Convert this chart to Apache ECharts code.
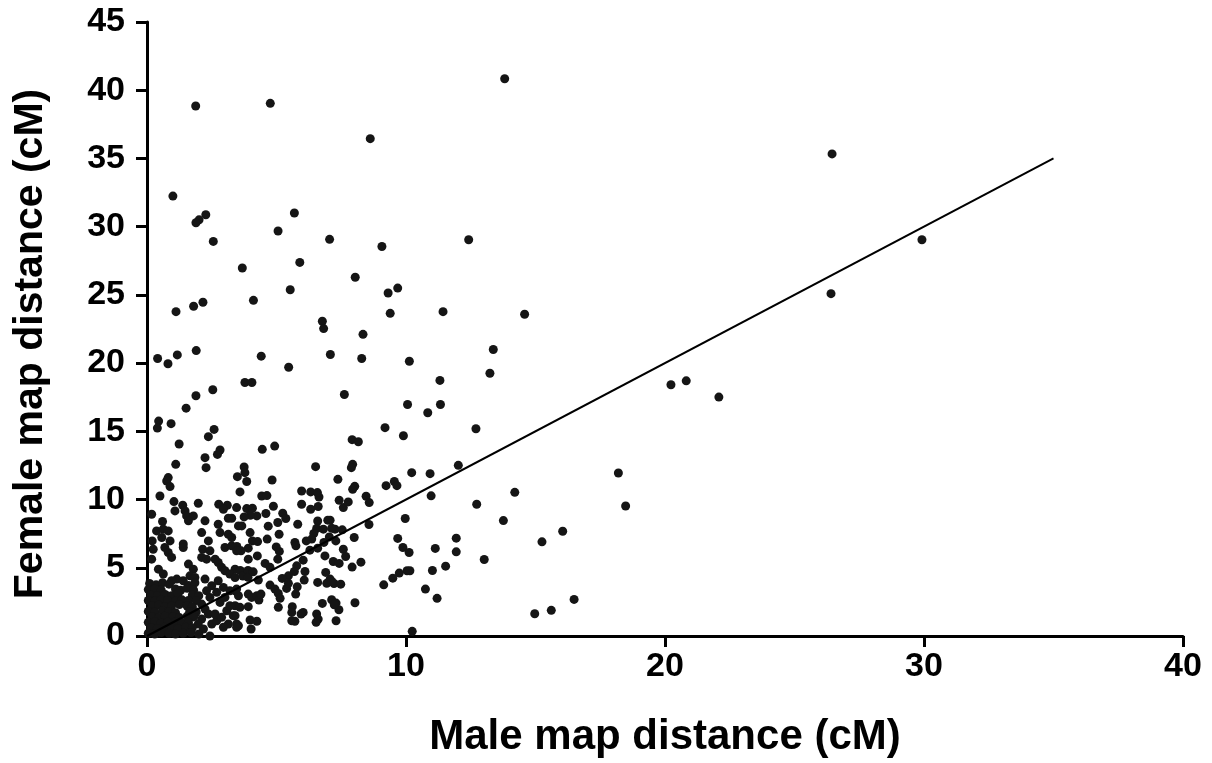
<!DOCTYPE html>
<html>
<head>
<meta charset="utf-8">
<title>Male vs female map distance</title>
<script src="https://cdn.jsdelivr.net/npm/echarts@6.0.0/dist/echarts.min.js"></script>
<style>
  html, body { margin: 0; padding: 0; background: #fff; }
  #chart { width: 1212px; height: 763px; }
</style>
</head>
<body>
<div id="chart"></div>
<script>
// male map distance (cM) for each marker interval
const maleDist = [
  13.81, 1.88, 4.76, 8.62, 1.00, 2.27, 2.01, 1.89, 5.69, 5.06, 2.56, 7.05, 9.07, 12.42,
  3.68, 5.9, 5.53, 4.11, 2.16, 1.80, 1.12, 6.77, 6.82, 0.41, 0.81, 1.17, 1.90, 4.41, 7.08, 5.47, 3.78, 4.05, 2.54, 1.89, 1.51, 0.45, 0.40, 0.93, 2.59, 2.37, 1.24, 2.82, 4.45, 4.93,
  8.04, 9.68, 9.31, 9.39, 11.43, 14.58, 8.34, 8.29, 10.13, 13.37, 13.24, 11.31, 7.62, 10.06, 11.33, 10.84, 9.19, 9.9, 12.7, 7.92, 8.16,
  20.23, 20.82, 22.08, 18.2, 18.48, 14.2, 13.76, 16.05, 15.25, 16.49, 15.61, 14.97, 29.92, 26.45, 26.41,
  7.94, 7.89, 12.02, 10.22, 10.93, 7.37, 8.02, 7.94, 9.23, 9.55, 9.65, 10.97, 12.73, 7.42, 7.58, 7.77, 8.46, 8.58, 8.57, 9.97, 7.07, 7.26, 7.54, 7.29, 8.0, 9.68, 9.88, 10.12, 11.13, 11.94, 11.94, 13.02, 7.58, 7.67, 7.19, 7.42, 8.26, 7.92, 11.53, 11.02, 10.04, 10.15, 9.74, 9.49, 9.14, 7.07, 7.22, 7.48, 10.75, 11.2, 7.13, 7.3, 7.41, 8.03, 7.3, 10.24,
  6.51, 3.75, 3.49, 3.78, 3.85, 4.83, 3.59, 4.43, 4.63, 5.97, 6.32, 6.64, 6.58, 5.97, 6.32, 6.61, 4.88, 3.46, 3.85, 4.07, 4.24, 3.99, 4.59, 3.75, 5.24, 5.36, 5.05, 4.68, 3.66, 5.82, 6.59, 6.98, 6.55, 6.81, 7.13, 3.98, 5.1, 6.44, 6.36, 6.15, 7.04, 4.07, 4.27, 4.64, 5.71, 6.83,
  3.47, 3.63, 3.91, 3.91, 4.26, 5.11, 5.05, 4.99, 5.75, 6.29, 6.03, 6.59, 6.87, 4.56, 4.75, 5.78, 5.69, 5.46, 5.22, 6.1, 6.07, 6.9, 3.4, 3.6, 3.7, 3.9, 3.9, 4.1, 4.3, 4.75, 4.94, 5.07, 5.14, 5.39, 5.46, 5.8, 5.74, 6.59, 6.94, 7.13, 3.4, 3.53, 3.91, 4.04, 4.24, 4.32, 4.4, 3.4, 3.59, 3.91, 5.07, 5.61, 5.59, 6.03, 5.95, 5.71, 5.59, 6.55, 6.61, 6.53, 6.77, 7.23, 3.46, 3.53, 3.98, 4.24, 4.02, 3.4,
  2.72, 2.24, 2.28, 1.11, 0.82, 0.76, 0.89, 0.5, 1.04, 1.38, 1.08, 1.47, 1.53, 1.79, 1.6, 1.98, 2.77, 3.1, 2.95, 3.27, 3.14, 3.53, 0.18, 0.6, 0.37, 0.63, 0.82, 0.57, 0.2, 0.89, 2.24, 2.11, 2.37, 2.75, 2.82, 3.14, 3.27, 1.4,
  0.24, 0.69, 0.82, 0.95, 1.4, 2.15, 2.43, 2.11, 2.3, 2.63, 2.75, 2.88, 3.01, 3.27, 3.46, 0.18, 0.44, 0.63, 1.6, 1.79, 1.66, 1.85, 1.15, 1.4, 0.95, 3.01, 3.2, 3.4, 2.24, 2.5, 2.75, 2.11, 2.24, 2.37, 2.11, 1.98, 2.18, 2.5, 2.69, 2.63, 2.88, 3.08, 2.82, 3.01, 3.2, 3.33, 3.14, 3.46, 2.95, 3.46, 3.2, 2.95, 2.69, 2.3, 2.43, 2.43,
  // the solid cluster next to the origin
  0.1, 0.35, 0.6, 0.85, 1.6, 1.85, 0.05, 0.3, 0.55, 1.1, 1.3, 1.55, 1.8, 0.15, 0.4, 0.7, 0.95, 1.2, 1.75, 2.0, 0.05, 0.3, 0.55, 0.8, 1.1, 1.35, 1.6, 1.9, 0.2, 0.45, 0.7, 0.95, 1.25, 1.55, 1.75, 0.05, 0.3, 0.6, 0.85, 1.1, 1.65, 1.9, 0.2, 0.45, 0.7, 1.0, 1.25, 1.55, 1.8, 0.05, 0.3, 0.55, 0.8, 1.1, 1.35, 1.6, 0.15, 0.4, 0.7, 0.95, 1.2, 1.5, 1.75, 0.05, 0.3, 0.55, 0.85, 1.1, 1.4, 1.7, 2.0
];
// female map distance (cM), same order as maleDist
const femaleDist = [
  40.84, 38.84, 39.04, 36.45, 32.24, 30.87, 30.5, 30.29, 31.0, 29.68, 28.92, 29.07, 28.55, 29.04,
  26.97, 27.38, 25.38, 24.6, 24.46, 24.17, 23.77, 23.07, 22.53, 20.34, 19.95, 20.6, 20.92, 20.51, 20.63, 19.7, 18.58, 18.58, 18.05, 17.61, 16.7, 15.75, 15.24, 15.56, 15.14, 14.61, 14.07, 13.63, 13.68, 13.92,
  26.29, 25.5, 25.14, 23.65, 23.77, 23.58, 22.11, 20.34, 20.14, 21.0, 19.26, 18.73, 17.7, 16.97, 16.97, 16.36, 15.27, 14.68, 15.19, 14.39, 14.24,
  18.41, 18.7, 17.51, 11.95, 9.53, 10.53, 8.46, 7.68, 6.9, 2.68, 1.88, 1.63, 29.04, 35.33, 25.09,
  12.58, 12.34, 12.51, 11.97, 11.9, 11.48, 10.97, 10.75, 11.02, 11.32, 11.02, 10.27, 9.66, 9.95, 9.41, 9.83, 10.24, 9.78, 8.17, 8.61, 8.49, 7.83, 7.78, 6.97, 7.22, 7.15, 6.49, 6.12, 6.42, 7.17, 6.17, 5.61, 6.36, 5.83, 5.46, 5.32, 5.41, 5.05, 5.12, 4.8, 4.78, 4.78, 4.61, 4.24, 3.75, 4.17, 3.85, 3.8, 3.44, 2.76, 2.66, 2.41, 1.92, 2.44, 1.12, 0.34,
  12.41, 12.39, 11.68, 11.97, 11.32, 11.43, 10.56, 10.26, 10.29, 10.63, 10.56, 10.19, 10.51, 9.66, 9.29, 9.49, 9.51, 9.41, 9.34, 9.36, 8.8, 8.85, 8.98, 8.73, 9.0, 8.61, 8.32, 8.05, 8.07, 8.19, 8.43, 8.49, 7.88, 7.83, 7.9, 7.58, 7.46, 7.51, 7.1, 6.97, 7.26, 6.97, 6.92, 7.1, 6.85, 6.86,
  6.56, 6.24, 6.44, 5.63, 5.87, 6.2, 5.63, 6.53, 6.61, 6.29, 5.56, 6.44, 5.87, 5.32, 5.03, 5.14, 4.73, 4.41, 4.22, 4.73, 4.1, 4.66, 4.9, 4.8, 4.4, 4.8, 4.3, 4.7, 4.1, 3.73, 3.44, 3.12, 2.76, 3.49, 3.86, 3.61, 3.07, 3.93, 3.86, 4.0, 3.31, 2.95, 3.07, 2.83, 2.95, 2.63, 3.07, 2.22, 2.1, 2.15, 2.1, 2.15, 1.73, 1.73, 1.61, 1.08, 1.12, 1.61, 1.24, 1.0, 2.39, 2.29, 0.88, 0.75, 1.17, 1.08, 0.51, 1.49,
  13.31, 13.07, 12.34, 12.58, 11.61, 11.36, 10.95, 10.26, 9.85, 9.58, 9.17, 9.17, 8.8, 8.8, 8.44, 9.73, 9.66, 9.58, 9.29, 8.63, 8.63, 8.07, 8.92, 8.39, 7.7, 7.83, 7.7, 7.22, 6.97, 6.97, 8.44, 7.58, 6.97, 8.19, 7.58, 7.46, 7.22, 6.75,
  6.36, 6.49, 6.12, 5.76, 6.49, 6.36, 6.24, 5.76, 5.63, 5.63, 5.39, 5.03, 6.49, 6.61, 6.24, 5.63, 4.9, 4.54, 5.27, 4.9, 4.41, 4.29, 4.17, 4.05, 4.05, 4.78, 4.54, 4.29, 4.17, 3.68, 4.05, 2.34, 1.98, 1.61, 1.24, 0.88, 0.51, 0.88, 1.12, 1.61, 1.37, 1.85, 2.46, 2.83, 2.22, 1.49, 0.88, 0.64, 0.64, 3.44, 3.31, 3.56, 3.2, 3.31, 2.83, 0.0,
  3.85, 3.75, 3.9, 3.8, 3.7, 3.9, 3.4, 3.45, 3.35, 3.45, 3.35, 3.5, 3.35, 3.0, 2.95, 3.05, 2.95, 3.1, 3.0, 2.95, 2.6, 2.55, 2.65, 2.6, 2.55, 2.65, 2.6, 2.6, 2.2, 2.25, 2.15, 2.2, 2.3, 2.2, 2.15, 1.8, 1.75, 1.85, 1.8, 1.7, 1.8, 1.75, 1.4, 1.35, 1.45, 1.4, 1.35, 1.45, 1.4, 1.0, 1.05, 0.95, 1.0, 1.05, 0.95, 1.0, 0.6, 0.55, 0.65, 0.6, 0.55, 0.65, 0.6, 0.2, 0.15, 0.25, 0.2, 0.15, 0.2, 0.25, 0.15
];

// reference line drawn in the figure
const lineX = [0, 35];
const lineY = [0, 35];

const xTicks = [0, 10, 20, 30, 40];
const yTicks = [0, 5, 10, 15, 20, 25, 30, 35, 40, 45];

const FONT = '"Liberation Sans", Arial, Helvetica, sans-serif';

const points = maleDist.map((x, i) => [x, femaleDist[i]]);
const linePts = lineX.map((x, i) => [x, lineY[i]]);

const axisCommon = {
  type: 'value',
  nameLocation: 'middle',
  axisLine: { show: true, onZero: false, lineStyle: { color: '#000', width: 3 } },
  axisTick: { show: true, inside: false, length: 11, lineStyle: { color: '#000', width: 3 } },
  splitLine: { show: false },
  axisLabel: { fontFamily: FONT, fontWeight: 'bold', fontSize: 34, color: '#000' }
};

const chart = echarts.init(document.getElementById('chart'), null, { renderer: 'canvas' });
chart.setOption({
  animation: false,
  backgroundColor: '#fff',
  grid: { left: 147, right: 29, top: 22, bottom: 126 },
  xAxis: Object.assign({}, axisCommon, {
    name: 'Male map distance (cM)',
    nameGap: 80,
    nameTextStyle: { fontFamily: FONT, fontWeight: 'bold', fontSize: 42, color: '#000' },
    min: xTicks[0],
    max: xTicks[xTicks.length - 1],
    interval: xTicks[1] - xTicks[0],
    axisLabel: Object.assign({}, axisCommon.axisLabel, { margin: 14 })
  }),
  yAxis: Object.assign({}, axisCommon, {
    name: 'Female map distance (cM)',
    nameGap: 96,
    // pushes the title a little toward the bottom, as in the figure
    nameTextStyle: { fontFamily: FONT, fontWeight: 'bold', fontSize: 41, color: '#000', padding: [0, 30, 0, 0] },
    min: yTicks[0],
    max: yTicks[yTicks.length - 1],
    interval: yTicks[1] - yTicks[0],
    axisLabel: Object.assign({}, axisCommon.axisLabel, { margin: 22 })
  }),
  series: [
    {
      type: 'line',
      data: linePts,
      symbol: 'none',
      lineStyle: { color: '#000', width: 2 },
      z: 3
    },
    {
      type: 'scatter',
      data: points,
      symbol: 'circle',
      symbolSize: 9,
      itemStyle: { color: '#151515', opacity: 1 },
      z: 2
    }
  ]
});
</script>
</body>
</html>
